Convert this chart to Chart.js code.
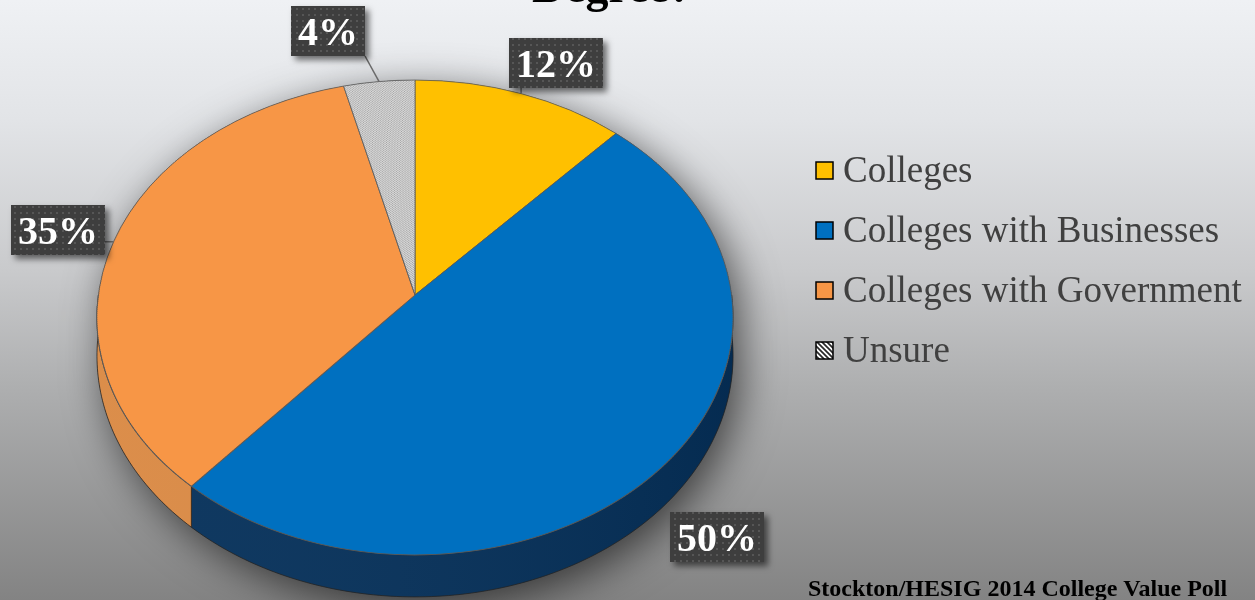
<!DOCTYPE html>
<html>
<head>
<meta charset="utf-8">
<script src="https://cdn.jsdelivr.net/npm/chart.js@4.4.0/dist/chart.umd.min.js"></script>
<style>
    html, body { margin: 0; padding: 0; overflow: hidden; }
</style>
</head>
<body>
<canvas id="pie" width="1255" height="600"></canvas>
<script>
// who should pay for the degree - poll answers (percent)
let categories = ["Colleges", "Colleges with Businesses", "Colleges with Government", "Unsure"];
let shares = [12, 50, 35, 4];
let titleText = "Degree?";
let sourceText = "Stockton/HESIG 2014 College Value Poll";

// look of the tilted pie
let faceColors = ["#ffc000", "#0070c0", "#f79646", "#d2d2d2"];
let sideColors = ["#c99700", "#05305a", "#da8943", "#9c9c9c"];
let persp = 0.0946;    // how much the near edge grows against the far edge
let spanX = 0.9956;    // horizontal size against the pie radius
let spanY = 0.740;     // vertical size against the pie radius (tilt)
let thickness = 38;    // side height before perspective
let labelReach = 1.2;
// hand placed label boxes (dx, dy from the computed spot)
let labelNudge = [[14, 10], [0, 15], [5, -1], [-44, -8]];

let canvas = document.getElementById("pie");
let ctx0 = canvas.getContext("2d");

function hatch(size, bg, fg, lw) {
    let c = document.createElement("canvas");
    c.width = size;
    c.height = size;
    let g = c.getContext("2d");
    g.fillStyle = bg;
    g.fillRect(0, 0, size, size);
    g.strokeStyle = fg;
    g.lineWidth = lw;
    g.beginPath();
    g.moveTo(-1, -1); g.lineTo(size + 1, size + 1);
    g.moveTo(-size / 2 - 1, size / 2 - 1); g.lineTo(size / 2 + 1, size * 1.5 + 1);
    g.moveTo(size / 2 - 1, -size / 2 - 1); g.lineTo(size * 1.5 + 1, size / 2 + 1);
    g.stroke();
    return ctx0.createPattern(c, "repeat");
}

function dots() {
    let c = document.createElement("canvas");
    c.width = 6;
    c.height = 6;
    let g = c.getContext("2d");
    g.fillStyle = "#3e3e3e";
    g.fillRect(0, 0, 6, 6);
    g.fillStyle = "#565656";
    g.fillRect(2, 2, 2, 2);
    return ctx0.createPattern(c, "repeat");
}

let unsureFill = hatch(3, "#d6d6d6", "#a2a2a2", 1);
let unsureKey = hatch(5, "#ffffff", "#2a2a2a", 1.7);
let boxFill = dots();

let fills = faceColors.slice();
fills[3] = unsureFill;
let keyFills = faceColors.slice();
keyFills[3] = unsureKey;

// point on the rim of the tilted pie, canvas angle a
function rim(cx, cy, R, a, drop) {
    let u = Math.cos(a), v = Math.sin(a);
    let s = 1 / (1 - persp * v);
    return [cx + spanX * R * u * s, cy + spanY * R * v * s + drop * s];
}

function rimPath(ctx, cx, cy, R, a0, a1, drop, first) {
    let n = Math.max(6, Math.ceil(Math.abs(a1 - a0) * 60));
    for (let j = 0; j <= n; j++) {
        let p = rim(cx, cy, R, a0 + (a1 - a0) * j / n, drop);
        if (first && j === 0) ctx.moveTo(p[0], p[1]);
        else ctx.lineTo(p[0], p[1]);
    }
}

const pie3d = {
    id: "pie3d",
    beforeDraw(chart) {
        let ctx = chart.ctx;
        let bg = ctx.createLinearGradient(0, 0, 0, chart.height);
        bg.addColorStop(0, "#eff1f4");
        bg.addColorStop(0.2, "#e2e4e7");
        bg.addColorStop(0.45, "#c9cacc");
        bg.addColorStop(0.65, "#adaeaf");
        bg.addColorStop(1, "#838383");
        ctx.fillStyle = bg;
        ctx.fillRect(0, 0, chart.width, chart.height);
    },
    beforeDatasetsDraw(chart) {
        let ctx = chart.ctx;
        let arcs = chart.getDatasetMeta(0).data;
        let cx = arcs[0].x, cy = arcs[0].y, R = arcs[0].outerRadius;

        // soft shadow under the whole pie
        ctx.save();
        ctx.beginPath();
        rimPath(ctx, cx, cy, R, Math.PI, 2 * Math.PI, 0, true);
        rimPath(ctx, cx, cy, R, 0, Math.PI, thickness, false);
        ctx.closePath();
        ctx.shadowColor = "rgba(0,0,0,0.6)";
        ctx.shadowBlur = 40;
        ctx.shadowOffsetX = 8;
        ctx.shadowOffsetY = 10;
        ctx.fillStyle = "#4a4a4a";
        ctx.fill();
        ctx.restore();

        // sides, only the near half shows
        arcs.forEach((arc, i) => {
            let a0 = Math.max(arc.startAngle, 0);
            let a1 = Math.min(arc.endAngle, Math.PI);
            if (a1 <= a0) return;
            ctx.save();
            ctx.beginPath();
            rimPath(ctx, cx, cy, R, a0, a1, 0, true);
            rimPath(ctx, cx, cy, R, a1, a0, thickness, false);
            ctx.closePath();
            ctx.fillStyle = sideColors[i];
            ctx.fill();
            let shade = ctx.createLinearGradient(cx - R, 0, cx + R, 0);
            shade.addColorStop(0, "rgba(255,255,255,0.04)");
            shade.addColorStop(1, "rgba(0,0,0,0.1)");
            ctx.fillStyle = shade;
            ctx.fill();
            ctx.strokeStyle = "rgba(35,35,35,0.75)";
            ctx.lineWidth = 1;
            ctx.stroke();
            ctx.restore();
        });

        // top face, drawn in thin rows, each row scaled for its distance
        let A = spanX * R, B = spanY * R;
        let yTop = Math.floor(cy - B / (1 + persp)) - 2;
        let yBot = Math.ceil(cy + B / (1 - persp)) + 2;
        let step = 2;
        for (let y = yTop; y < yBot; y += step) {
            let ym = y + step / 2;
            let dy = ym - cy;
            let v0 = dy / (B + persp * dy);
            let s0 = 1 / (1 - persp * v0);
            let sx = A * s0 / R;
            let sy = B * s0 * s0 / R;
            ctx.save();
            ctx.beginPath();
            ctx.rect(0, y, chart.width, step);
            ctx.clip();
            ctx.transform(sx, 0, 0, sy, cx - sx * cx, ym - sy * (cy + v0 * R));
            arcs.forEach(a => a.draw(ctx));
            ctx.restore();
        }
        return false;
    },
    afterDraw(chart) {
        let ctx = chart.ctx;
        let arcs = chart.getDatasetMeta(0).data;
        let cx = arcs[0].x, cy = arcs[0].y, R = arcs[0].outerRadius;

        // value boxes
        ctx.save();
        ctx.font = "bold 40px 'Liberation Serif'";
        arcs.forEach((arc, i) => {
            let mid = (arc.startAngle + arc.endAngle) / 2;
            let v = Math.sin(mid);
            let p = rim(cx, cy, R, mid, 0);
            let lx = cx + (p[0] - cx) * labelReach + labelNudge[i][0];
            let ly = cy + (p[1] - cy) * labelReach + (v > 0 ? v * thickness : 0) + labelNudge[i][1];
            let text = shares[i] + "%";
            let w = ctx.measureText(text).width + 14, h = 50;
            let x0 = Math.round(lx - w / 2), y0 = Math.round(ly - h / 2);

            if (v < 0) {
                let px = Math.min(Math.max(p[0], x0), x0 + w);
                let py = Math.min(Math.max(p[1], y0), y0 + h);
                if (Math.hypot(px - p[0], py - p[1]) > 2) {
                    ctx.strokeStyle = "#6a6a6a";
                    ctx.lineWidth = 1.5;
                    ctx.beginPath();
                    ctx.moveTo(p[0], p[1]);
                    ctx.lineTo(px, py);
                    ctx.stroke();
                }
            }

            ctx.save();
            ctx.shadowColor = "rgba(0,0,0,0.55)";
            ctx.shadowBlur = 6;
            ctx.shadowOffsetX = 4;
            ctx.shadowOffsetY = 4;
            ctx.fillStyle = boxFill;
            ctx.fillRect(x0, y0, w, h);
            ctx.restore();

            ctx.fillStyle = "#ffffff";
            ctx.textAlign = "center";
            ctx.textBaseline = "alphabetic";
            ctx.fillText(text, x0 + w / 2, y0 + h / 2 + 13.5);
        });
        ctx.restore();

        // legend
        ctx.save();
        ctx.font = "37px 'Liberation Serif'";
        ctx.textAlign = "left";
        ctx.textBaseline = "alphabetic";
        categories.forEach((name, i) => {
            let base = 182 + i * 60;
            ctx.fillStyle = keyFills[i];
            ctx.fillRect(816, base - 20, 17, 17);
            ctx.strokeStyle = "#000000";
            ctx.lineWidth = 1.5;
            ctx.strokeRect(816, base - 20, 17, 17);
            ctx.fillStyle = "#404040";
            ctx.fillText(name, 843, base);
        });
        ctx.restore();

        // title (runs off the top) and source line
        ctx.save();
        ctx.fillStyle = "#000000";
        ctx.textBaseline = "alphabetic";
        ctx.textAlign = "center";
        ctx.font = "bold 46px 'Liberation Serif'";
        ctx.fillText(titleText, 612, 2);
        ctx.textAlign = "left";
        ctx.font = "bold 24px 'Liberation Serif'";
        ctx.fillText(sourceText, 808, 596);
        ctx.restore();
    }
};

new Chart(canvas, {
    type: "pie",
    data: {
        labels: categories,
        datasets: [{
            data: shares,
            backgroundColor: fills,
            borderColor: "#5a5a5a",
            borderWidth: 1,
            radius: 318
        }]
    },
    options: {
        responsive: false,
        devicePixelRatio: 1,
        animation: false,
        events: [],
        layout: { padding: { top: 0, left: 0, right: 425, bottom: 10 } },
        plugins: {
            legend: { display: false },
            tooltip: { enabled: false },
            title: { display: false }
        }
    },
    plugins: [pie3d]
});
</script>
</body>
</html>
